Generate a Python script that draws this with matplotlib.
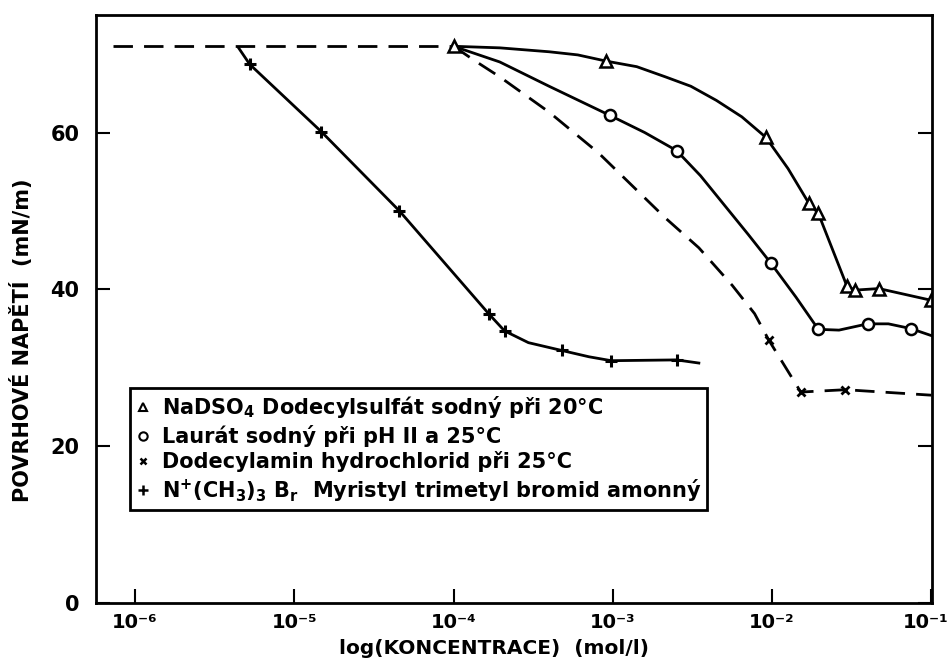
import matplotlib
matplotlib.use("Agg")
import matplotlib.pyplot as plt
from matplotlib.lines import Line2D
from matplotlib.transforms import ScaledTranslation

# values (concentration in mol/l, tension in mN/m)
plateau_x = [10**-6.14, 1e-4]
plateau_y = [71, 71]

# NaDSO4 - sodium dodecyl sulfate (triangles, solid)
sds_line_x = [1e-4, 10**-3.71, 10**-3.40, 10**-3.22, 10**-3.04, 10**-2.85, 10**-2.67,
              10**-2.51, 10**-2.35, 10**-2.19, 10**-2.04, 10**-1.90, 10**-1.77, 10**-1.71,
              10**-1.53, 10**-1.48, 10**-1.33, 10**-1.0]
sds_line_y = [71, 70.8, 70.3, 69.9, 69.1, 68.4, 67.1, 65.9, 64.1, 62.0, 59.4, 55.4, 51.0,
              49.7, 40.4, 39.9, 40.1, 38.6]
sds_pts_x = [1e-4, 10**-3.04, 10**-2.04, 10**-1.77, 10**-1.71, 10**-1.53, 10**-1.48,
             10**-1.33, 10**-1.0]
sds_pts_y = [71, 69.1, 59.4, 51.0, 49.7, 40.4, 39.9, 40.1, 38.6]

# sodium laurate (circles, solid)
laur_line_x = [1e-4, 10**-3.71, 10**-3.40, 10**-3.02, 10**-2.80, 10**-2.60, 10**-2.45,
               10**-2.29, 10**-2.15, 10**-2.01, 10**-1.85, 10**-1.71, 10**-1.58,
               10**-1.40, 10**-1.27, 10**-1.13, 10**-1.0]
laur_line_y = [71, 69.0, 65.9, 62.2, 60.0, 57.7, 54.5, 50.5, 47.0, 43.4, 39.0, 34.9, 34.8,
               35.6, 35.6, 35.0, 34.1]
laur_pts_x = [10**-3.02, 10**-2.60, 10**-2.01, 10**-1.71, 10**-1.40, 10**-1.13]
laur_pts_y = [62.2, 57.7, 43.4, 34.9, 35.6, 35.0]

# dodecylamine hydrochloride (x, dashed)
dod_line_x = [1e-4, 10**-3.87, 10**-3.71, 10**-3.40, 10**-3.09, 10**-2.67, 10**-2.46,
              10**-2.25, 10**-2.11, 10**-2.02, 10**-1.82, 10**-1.54, 10**-1.0]
dod_line_y = [71, 69.2, 67.1, 62.6, 57.4, 49.1, 45.3, 40.5, 36.9, 33.5, 26.9, 27.2, 26.5]
dod_pts_x = [10**-2.02, 10**-1.82, 10**-1.54]
dod_pts_y = [33.5, 26.9, 27.2]

# myristyl trimethyl ammonium bromide (+, solid)
myr_line_x = [10**-5.35, 10**-5.28, 10**-4.83, 10**-4.34, 10**-3.78, 10**-3.68, 10**-3.53,
              10**-3.32, 10**-3.15, 10**-3.01, 10**-2.60, 10**-2.46]
myr_line_y = [70.8, 68.7, 60.1, 50.0, 36.9, 34.7, 33.2, 32.2, 31.4, 30.9, 31.0, 30.6]
myr_pts_x = [10**-5.28, 10**-4.83, 10**-4.34, 10**-3.78, 10**-3.68, 10**-3.32,
             10**-3.01, 10**-2.60]
myr_pts_y = [68.7, 60.1, 50.0, 36.9, 34.7, 32.2, 30.9, 31.0]

x_ticks = [1e-6, 1e-5, 1e-4, 1e-3, 1e-2, 1e-1]
x_tick_labels = ["10⁻⁶", "10⁻⁵", "10⁻⁴", "10⁻³", "10⁻²", "10⁻¹"]
y_ticks = [0, 20, 40, 60]

labels = [
    r"NaDSO$_\mathbf{4}$ Dodecylsulfát sodný při 20°C",
    "Laurát sodný při pH II a 25°C",
    "Dodecylamin hydrochlorid při 25°C",
    r"N$^\mathbf{+}$(CH$_\mathbf{3}$)$_\mathbf{3}$ B$_\mathbf{r}$  Myristyl trimetyl bromid amonný",
]

plt.rcParams["mathtext.default"] = "bf"

fig = plt.figure(figsize=(9.48, 6.69), dpi=100)
ax = fig.add_axes([0.1013, 0.0987, 0.882, 0.879])

lw = 2
dash = (0, (7, 4))
ax.plot(plateau_x, plateau_y, color="black", lw=lw, ls=dash)
ax.plot(dod_line_x, dod_line_y, color="black", lw=lw, ls=dash)
ax.plot(sds_line_x, sds_line_y, color="black", lw=lw)
ax.plot(laur_line_x, laur_line_y, color="black", lw=lw)
ax.plot(myr_line_x, myr_line_y, color="black", lw=lw)

ax.plot(sds_pts_x, sds_pts_y, ls="none", marker="^", ms=8, mfc="white", mec="black", mew=1.8)
ax.plot(laur_pts_x, laur_pts_y, ls="none", marker="o", ms=8, mfc="white", mec="black", mew=1.8)
ax.plot(dod_pts_x, dod_pts_y, ls="none", marker="x", ms=6, mec="black", mew=2)
ax.plot(myr_pts_x, myr_pts_y, ls="none", marker="+", ms=9, mec="black", mew=2.2)

ax.set_xscale("log")
ax.set_xlim(10**-6.245, 10**-0.995)
ax.set_ylim(0, 75)
ax.set_xticks(x_ticks)
ax.set_xticklabels(x_tick_labels)
ax.minorticks_off()
ax.set_yticks(y_ticks)
ax.tick_params(direction="in", length=10, width=1.5, right=True)
ax.tick_params(axis="x", labelsize=14, pad=7)
ax.tick_params(axis="y", labelsize=15, pad=12)
for t in ax.get_xticklabels() + ax.get_yticklabels():
    t.set_fontweight("bold")
last = ax.get_xticklabels()[-1]
last.set_transform(last.get_transform() + ScaledTranslation(-4 / 72, 0, fig.dpi_scale_trans))
for s in ax.spines.values():
    s.set_linewidth(2)

ax.set_xlabel("log(KONCENTRACE)  (mol/l)", fontsize=14.5, fontweight="bold")
ax.xaxis.set_label_coords(0.476, -0.062)
ax.set_ylabel("POVRHOVÉ NAPĚTÍ  (mN/m)", fontsize=15, fontweight="bold")
ax.yaxis.set_label_coords(-0.075, 0.447)

handles = [
    Line2D([], [], ls="none", marker="^", ms=6, mfc="white", mec="black", mew=1.5),
    Line2D([], [], ls="none", marker="o", ms=6, mfc="white", mec="black", mew=1.5),
    Line2D([], [], ls="none", marker="x", ms=5, mec="black", mew=1.8),
    Line2D([], [], ls="none", marker="+", ms=7, mec="black", mew=1.8),
]
leg = ax.legend(handles, labels, loc="lower left", bbox_to_anchor=(0.041, 0.158),
                fancybox=False, framealpha=1, edgecolor="black", handlelength=0.6,
                handletextpad=0.6, borderpad=0.3, borderaxespad=0, labelspacing=0.22,
                prop={"weight": "bold", "size": 15})
leg.get_frame().set_linewidth(2)

fig.savefig("out.png", dpi=100)
